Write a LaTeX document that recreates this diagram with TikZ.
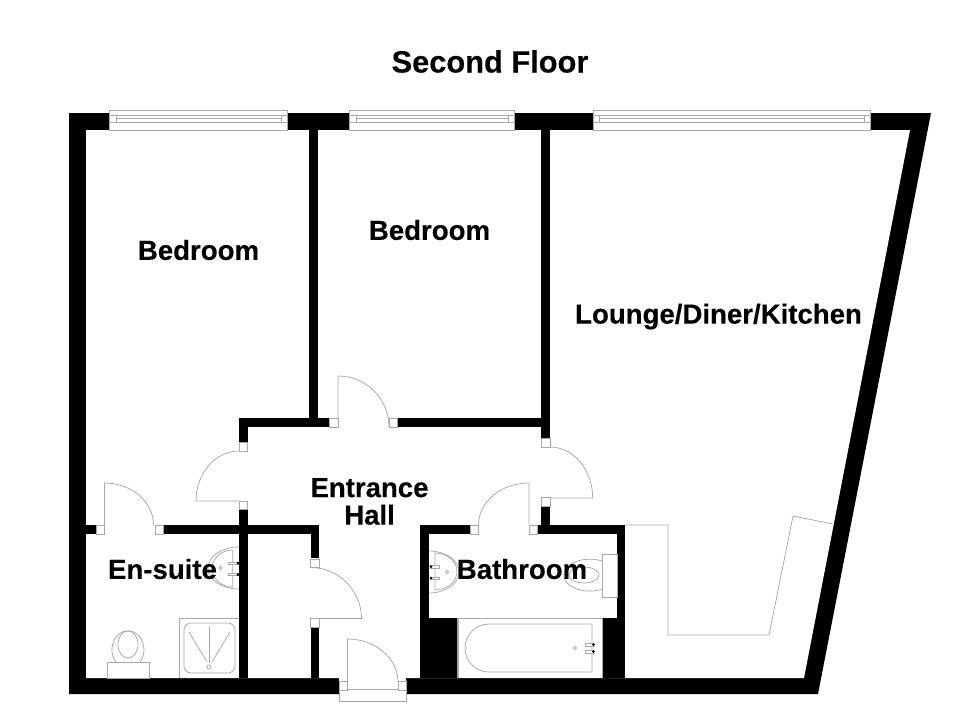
\documentclass[tikz,border=0pt]{standalone}
\usepackage{fontspec}
\setmainfont[BoldFeatures={FakeBold=0.25}]{Liberation Sans}
\definecolor{fix}{HTML}{A8A8A8}
\tikzset{
  x=1pt,y=-1pt,
  wall/.style={fill=black,draw=none},
  fixture/.style={draw=fix,line width=0.75pt,fill=none},
  frame/.style={draw=fix,line width=0.75pt,fill=white},
  lbl/.style={font=\bfseries\fontsize{27.6}{27.5}\selectfont,align=center,inner sep=0pt,text=black},
}
\newcommand{\doorframe}[2]{\draw[frame] (#1,#2) rectangle ++(8.5,8.5);}
\newcommand{\winframe}[2]{%
  \draw[frame] (#1,110) rectangle (#2,130);
  \draw[fixture] (#1,115) -- (#2,115);
  \draw[fixture] (#1,122) -- (#2,122);
  \draw[fixture] (#1+6.5,118.5) -- (#2-6.5,118.5);
  \draw[fixture] (#1+6.5,115) -- (#1+6.5,122);
  \draw[fixture] (#2-6.5,115) -- (#2-6.5,122);
}
\begin{document}
\begin{tikzpicture}
\useasboundingbox (0,0) rectangle (980,712);
\fill[white] (0,0) rectangle (980,712);
% outer walls
\fill[wall] (69,113) -- (931,113) -- (818,694) -- (69,694) -- cycle;
\fill[white] (86,130) -- (910,130) -- (804,678) -- (86,678) -- cycle;
% partitions
\fill[wall] (309,130) rectangle (317.5,427);
\fill[wall] (541,130) rectangle (550,438);
\fill[wall] (239,418) rectangle (329,427);
\fill[wall] (397,418) rectangle (550,427);
\fill[wall] (239,418) rectangle (247.5,442);
\fill[wall] (239,509) rectangle (247.5,678);
\fill[wall] (86,525) rectangle (96,534);
\fill[wall] (163,525) rectangle (319,534);
\fill[wall] (310.5,525) rectangle (319,558);
\fill[wall] (310.5,627) rectangle (319,678);
% bathroom
\fill[wall] (420,525) rectangle (470,534);
\fill[wall] (537.5,525) rectangle (625,534);
\fill[wall] (541,506) rectangle (550,525);
\fill[wall] (420,525) rectangle (429,678);
\fill[wall] (617,525) rectangle (625,678);
\fill[wall] (420,618) rectangle (457,678);
\fill[wall] (602,618) rectangle (625,678);
% entrance opening
\fill[white] (339,678) rectangle (406,694.5);
% windows
\winframe{109.5}{287.5}
\winframe{349.5}{514.5}
\winframe{593}{870.5}
% door frames
\doorframe{329.5}{418.5}
\doorframe{389}{418.5}
\doorframe{239}{442.5}
\doorframe{239}{501}
\doorframe{96}{525.5}
\doorframe{155}{525.5}
\doorframe{310.5}{559}
\doorframe{310.5}{618.5}
\doorframe{470}{525.5}
\doorframe{529}{525.5}
\doorframe{541.5}{438.5}
\doorframe{541.5}{497.5}
% doors
\draw[fixture] (338,418) -- (338,376) arc[start angle=-90,end angle=0,radius=51] -- (389,418);
\draw[fixture] (239,451) arc[start angle=-90,end angle=-180,x radius=43,y radius=50] -- (239,501);
\draw[fixture] (104.5,525) -- (104.5,483) arc[start angle=-90,end angle=0,x radius=49,y radius=42];
\draw[fixture] (310.5,567.5) arc[start angle=-90,end angle=0,radius=51] -- (310.5,618.5);
\draw[fixture] (529,525) -- (529,483) arc[start angle=-90,end angle=-180,x radius=50.5,y radius=42];
\draw[fixture] (550,447) arc[start angle=-90,end angle=0,x radius=42.7,y radius=51] -- (550,498);
% entrance door and step
\draw[frame] (339,689.5) rectangle (406.5,701);
\doorframe{339}{681.5}
\doorframe{398}{681.5}
\draw[fixture] (347.5,682) -- (347.5,639) arc[start angle=-90,end angle=0,x radius=50.5,y radius=43];
% en-suite fittings
\draw[fixture] (239,547) arc[start angle=-90,end angle=-270,x radius=31,y radius=21];
\draw[fixture] (232.7,550) -- (232.7,587) arc[start angle=-270,end angle=-90,x radius=20.7,y radius=18.5];
\draw[fixture] (220.7,568) circle[radius=1.6];
\draw[fixture,fill=white] (228,562) rectangle (238,564.5);
\draw[fixture,fill=white] (228,573) rectangle (238,575.5);
\fill[black] (238,563) circle[radius=1.5] (238,574.5) circle[radius=1.5];
\draw[fixture] (107,662) rectangle (149,678);
\draw[fixture] (115.7,662) arc[start angle=-220,end angle=40,x radius=16,y radius=19];
\draw[fixture] (128,644.5) ellipse[x radius=10,y radius=13.5];
\draw[fixture] (179,678) -- (179,618) -- (239,618);
\draw[fixture,rounded corners=7pt] (184,623) rectangle (235,673);
\draw[fixture] (209,667) circle[radius=2];
\draw[fixture] (209,627) -- (209,663);
\draw[fixture] (189,632) -- (207,662);
\draw[fixture] (230,632) -- (212,662);
% bathroom fittings
\draw[fixture] (429,551) arc[start angle=-90,end angle=90,x radius=30,y radius=21];
\draw[fixture] (435,553) -- (435,590) arc[start angle=90,end angle=-90,x radius=22,y radius=18.5];
\draw[fixture] (447,572) circle[radius=1.6];
\draw[fixture,fill=white] (430,565.5) rectangle (439,568);
\draw[fixture,fill=white] (430,577) rectangle (439,579.5);
\fill[black] (431,566.5) circle[radius=1.5] (431,578) circle[radius=1.5];
\draw[fixture] (602,554) rectangle (617,597);
\draw[fixture] (602,561) arc[start angle=-62,end angle=-298,x radius=26,y radius=16];
\draw[fixture] (584,575) ellipse[x radius=15,y radius=8];
\draw[fixture] (457,678) -- (457,618) -- (602,618) -- (602,678);
\draw[fixture] (458.5,678) -- (458.5,619);
\draw[fixture] (592,624) -- (489,624) arc[start angle=-90,end angle=-270,radius=24] -- (592,672) -- cycle;
\draw[fixture] (575,648) circle[radius=1.7];
\draw[fixture,fill=white] (585,643) rectangle (593,646);
\draw[fixture,fill=white] (585,650) rectangle (593,653);
\fill[black] (593.5,644.5) circle[radius=1.5] (593.5,651.5) circle[radius=1.5];
% kitchen
\draw[fixture] (625,525) -- (668,525) -- (668,635) -- (769,635) -- (793,516) -- (833,524);
% labels
\node[lbl,font=\bfseries\fontsize{30.8}{32}\selectfont] (title) at (490,61.5) {Second Floor};
\node[lbl] (bedroomA) at (198.5,250) {Bedroom};
\node[lbl] (bedroomB) at (429.5,230) {Bedroom};
\node[lbl] (lounge) at (718.5,316.5) {Lounge/Diner/Kitchen};
\node[lbl] (hall) at (369.5,501.5) {Entrance\\Hall};
\node[lbl] (ensuite) at (162.5,569) {En-suite};
\node[lbl] (bathroom) at (522,569) {Bathroom};
\end{tikzpicture}
\end{document}
